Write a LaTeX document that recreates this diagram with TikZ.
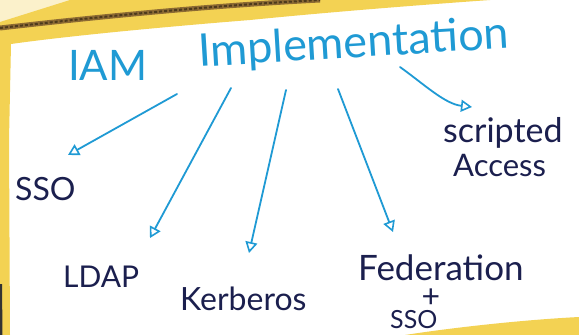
\documentclass[tikz,border=0pt]{standalone}
\usepackage{fontspec}
\setmainfont{Lato}
\usetikzlibrary{arrows.meta}
\definecolor{ink}{HTML}{1F9AD4}
\definecolor{pen}{HTML}{1B1F4E}
\definecolor{note}{HTML}{F3D253}
\definecolor{edge}{HTML}{8C6A33}
\begin{document}
\begin{tikzpicture}[x=1pt,y=-1pt,
  heading/.style={text=ink, font=\fontsize{42}{46}\selectfont, inner sep=0pt, anchor=base west},
  label/.style={text=pen, inner sep=0pt, anchor=base west},
  link/.style={draw=ink, line width=1.8pt, line cap=round,
    -{Triangle[open,length=11pt,width=12pt,line width=1.6pt]}}]
  % paper and sticky-note edges
  \useasboundingbox (0,0) rectangle (579,335);
  \fill[white] (0,0) rectangle (579,335);
  \fill[note!30] (0,0) -- (80,0) -- (0,24) -- cycle;
  \fill[note] (0,22) -- (70,0) -- (490,0)
    .. controls (420,5) and (330,12) .. (250,20)
    .. controls (150,28) and (60,37) .. (11,44)
    -- (9,140) -- (10,335) -- (0,335) -- cycle;
  \fill[black!80] (0,284) -- (2,284) -- (2.5,335) -- (0,335) -- cycle;
  \fill[note] (405,335) .. controls (450,328) and (520,320) .. (579,317) -- (579,335) -- cycle;
  \draw[edge, line width=5pt] (0,28) .. controls (70,20) and (200,6) .. (320,0);
  \draw[edge!55!black, line width=2pt, dash pattern=on 3pt off 2pt]
    (0,28) .. controls (70,20) and (200,6) .. (320,0);

  % heading
  \node[heading] (iam) at (68,80) {IAM};
  \node[heading, font=\fontsize{45}{50}\selectfont, rotate=3.5] (impl) at (199,67) {Implementation};

  % labels
  \node[label, font=\fontsize{32}{36}\selectfont] (sso) at (15,200) {SSO};
  \node[label, font=\fontsize{30}{34}\selectfont] (ldap) at (63,287) {LDAP};
  \node[label, font=\fontsize{32}{36}\selectfont] (krb) at (180,310) {Kerberos};
  \node[label, font=\fontsize{35}{40}\selectfont] (fed) at (358,280) {Federation};
  \node[label, font=\fontsize{32}{34}\selectfont, anchor=base] (plus) at (431,307) {+};
  \node[label, font=\fontsize{25}{30}\selectfont] (fsso) at (390,328) {SSO};
  \node[label, font=\fontsize{34}{38}\selectfont] (scr) at (443,142) {scripted};
  \node[label, font=\fontsize{31}{34}\selectfont] (acc) at (453,176) {Access};

  % arrow ends
  \coordinate (s1) at (177,94);  \coordinate (e1) at (68,155);
  \coordinate (s2) at (231,88);  \coordinate (e2) at (150,238);
  \coordinate (s3) at (286,90);  \coordinate (e3) at (249,253);
  \coordinate (s4) at (338,89);  \coordinate (e4) at (393,232);
  \coordinate (s5) at (400,67);  \coordinate (e5) at (472,107);

  \draw[link] (s1) -- (e1);
  \draw[link] (s2) -- (e2);
  \draw[link] (s3) -- (e3);
  \draw[link] (s4) -- (e4);
  \draw[link] (s5) .. controls (425,85) and (445,104) .. (e5);
\end{tikzpicture}
\end{document}
